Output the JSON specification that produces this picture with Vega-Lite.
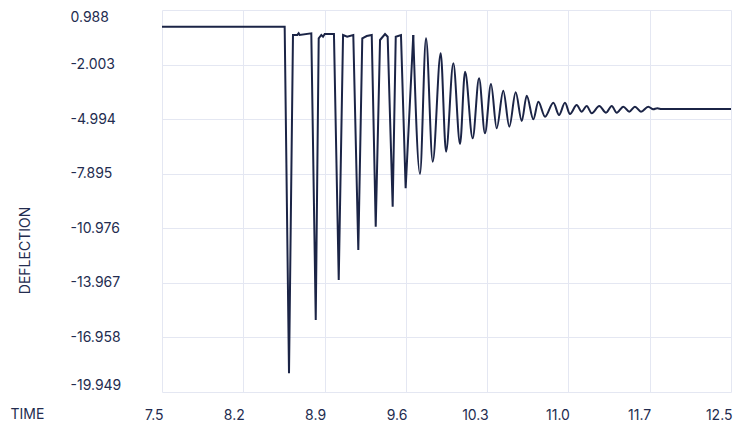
{
  "$schema": "https://vega.github.io/schema/vega-lite/v6.json",
  "width": 569,
  "height": 382,
  "autosize": {"type": "none"},
  "padding": {"left": 162, "top": 10, "right": 13, "bottom": 40},
  "background": "white",
  "config": {
    "view": {"stroke": null},
    "font": "Inter",
    "axis": {
      "grid": true,
      "gridColor": "#e4e7f2",
      "gridWidth": 1,
      "domain": false,
      "ticks": false,
      "tickSize": 0,
      "labelFont": "Inter",
      "labelFontSize": 14,
      "labelColor": "#232c4f",
      "titleFont": "Inter",
      "titleFontSize": 14,
      "titleFontWeight": "normal",
      "titleColor": "#232c4f"
    }
  },
  "data": {
    "values": [
      {"time": 7.5, "deflection": 0.073},
      {"time": 8.578, "deflection": 0.073},
      {"time": 8.616, "deflection": -18.924},
      {"time": 8.651, "deflection": -0.382},
      {"time": 8.689, "deflection": -0.382},
      {"time": 8.701, "deflection": -0.289},
      {"time": 8.71, "deflection": -0.382},
      {"time": 8.812, "deflection": -0.289},
      {"time": 8.851, "deflection": -16.003},
      {"time": 8.877, "deflection": -0.563},
      {"time": 8.9, "deflection": -0.382},
      {"time": 8.915, "deflection": -0.475},
      {"time": 8.93, "deflection": -0.327},
      {"time": 9.011, "deflection": -0.327},
      {"time": 9.053, "deflection": -13.811},
      {"time": 9.091, "deflection": -0.382},
      {"time": 9.127, "deflection": -0.475},
      {"time": 9.181, "deflection": -0.382},
      {"time": 9.225, "deflection": -12.166},
      {"time": 9.26, "deflection": -0.563},
      {"time": 9.299, "deflection": -0.437},
      {"time": 9.343, "deflection": -0.382},
      {"time": 9.378, "deflection": -10.889},
      {"time": 9.416, "deflection": -0.656},
      {"time": 9.46, "deflection": -0.327},
      {"time": 9.483, "deflection": -0.475},
      {"time": 9.527, "deflection": -9.793},
      {"time": 9.554, "deflection": -0.475},
      {"time": 9.6, "deflection": -0.382},
      {"time": 9.641, "deflection": -8.784},
      {"time": 9.708, "deflection": -0.382},
      {"time": 9.767, "deflection": -8.001},
      {"time": 9.82, "deflection": -0.563},
      {"time": 9.879, "deflection": -7.327},
      {"time": 9.949, "deflection": -1.385},
      {"time": 9.996, "deflection": -6.778},
      {"time": 10.06, "deflection": -1.933},
      {"time": 10.119, "deflection": -6.356},
      {"time": 10.163, "deflection": -2.394},
      {"time": 10.23, "deflection": -6.044},
      {"time": 10.286, "deflection": -2.755},
      {"time": 10.338, "deflection": -5.77},
      {"time": 10.391, "deflection": -3.068},
      {"time": 10.441, "deflection": -5.496},
      {"time": 10.499, "deflection": -3.435},
      {"time": 10.552, "deflection": -5.408},
      {"time": 10.608, "deflection": -3.523},
      {"time": 10.661, "deflection": -5.096},
      {"time": 10.705, "deflection": -3.709},
      {"time": 10.763, "deflection": -5.003},
      {"time": 10.807, "deflection": -4.038},
      {"time": 10.866, "deflection": -4.86},
      {"time": 10.939, "deflection": -4.093},
      {"time": 10.989, "deflection": -4.767},
      {"time": 11.041, "deflection": -4.093},
      {"time": 11.085, "deflection": -4.712},
      {"time": 11.144, "deflection": -4.219},
      {"time": 11.188, "deflection": -4.586},
      {"time": 11.232, "deflection": -4.274},
      {"time": 11.276, "deflection": -4.674},
      {"time": 11.343, "deflection": -4.274},
      {"time": 11.402, "deflection": -4.641},
      {"time": 11.452, "deflection": -4.274},
      {"time": 11.496, "deflection": -4.641},
      {"time": 11.554, "deflection": -4.312},
      {"time": 11.606, "deflection": -4.586},
      {"time": 11.656, "deflection": -4.312},
      {"time": 11.709, "deflection": -4.586},
      {"time": 11.773, "deflection": -4.312},
      {"time": 11.817, "deflection": -4.455},
      {"time": 11.852, "deflection": -4.4},
      {"time": 11.891, "deflection": -4.438},
      {"time": 12.5, "deflection": -4.438}
    ]
  },
  "encoding": {
    "x": {
      "field": "time",
      "type": "quantitative",
      "scale": {"domain": [7.5, 12.5], "nice": false, "zero": false},
      "axis": {
        "title": "TIME",
        "values": [7.5, 8.214285714, 8.928571429, 9.642857143, 10.357142857, 11.071428571, 11.785714286, 12.5],
        "labelExpr": "format(floor(datum.value * 10 + 0.000001) / 10, '.1f')",
        "labelFlush": false,
        "labelAlign": "right",
        "labelOffset": 1,
        "labelPadding": 16,
        "titleAnchor": "start",
        "titleAlign": "left",
        "titleBaseline": "middle",
        "titleX": -152,
        "titleY": 22
      }
    },
    "y": {
      "field": "deflection",
      "type": "quantitative",
      "scale": {"domain": [-19.949, 0.988], "nice": false, "zero": false},
      "axis": {
        "title": "DEFLECTION",
        "values": [0.988, -2.003, -4.994, -7.985, -10.976, -13.967, -16.958, -19.949],
        "labelExpr": "abs(datum.value + 7.985) < 0.001 ? '-7.895' : replace(format(datum.value, '.3f'), '\u2212', '-')",
        "labelFlush": true,
        "labelAlign": "left",
        "labelPadding": 92,
        "titleAngle": -90,
        "titleAlign": "center",
        "titleBaseline": "middle",
        "titleX": -137,
        "titleY": 240
      }
    }
  },
  "layer": [
    {
      "transform": [{"filter": "datum.time <= 9.708"}],
      "mark": {"type": "line", "interpolate": "linear", "color": "#1b2446", "strokeWidth": 2, "strokeJoin": "miter", "clip": true}
    },
    {
      "transform": [{"filter": "datum.time >= 9.708"}],
      "mark": {"type": "line", "interpolate": "monotone", "color": "#1b2446", "strokeWidth": 2, "clip": true}
    }
  ]
}
